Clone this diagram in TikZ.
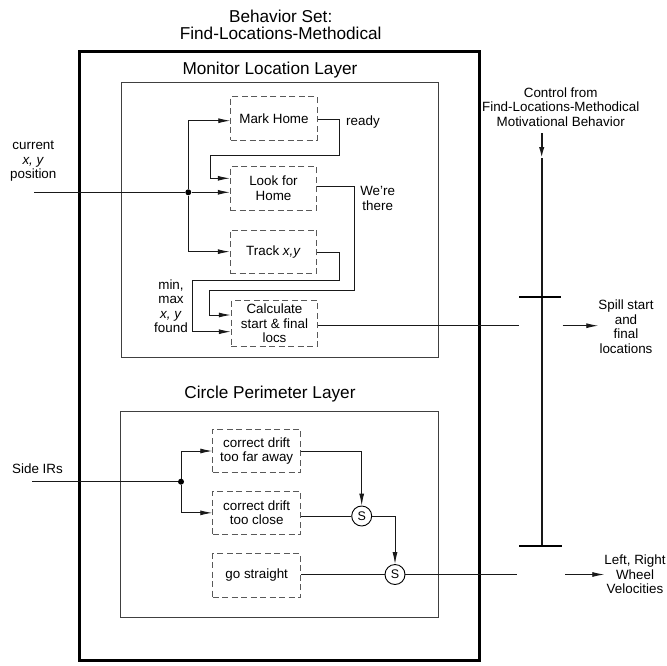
\documentclass[tikz,border=0pt]{standalone}
\usepackage{fontspec}
\setmainfont{Liberation Sans}
\usetikzlibrary{arrows.meta}
\begin{document}
\begin{tikzpicture}[x=1pt,y=-1pt,
  sm/.style={font=\fontsize{13.4}{14.5}\selectfont, align=center, inner sep=0},
  ttl/.style={font=\fontsize{17.2}{17.4}\selectfont, align=center, inner sep=0},
  bhv/.style={draw=black!65, dash pattern=on 6pt off 3.5pt, line width=0.9pt, minimum width=86.6pt, minimum height=43.4pt, inner sep=0, sm},
  layer/.style={draw=black!75, line width=0.9pt, inner sep=0},
  wire/.style={line width=0.9pt, draw=black!90},
  arr/.style={wire, -{Latex[length=12pt,width=5pt]}},
  ctrlw/.style={line width=1.7pt, draw=black!90},
  sup/.style={circle, draw, line width=0.9pt, minimum size=20pt, inner sep=0, font=\fontsize{12.5}{12.5}\selectfont},
  dotn/.style={circle, fill, minimum size=6pt, inner sep=0}]
\useasboundingbox (0,0) rectangle (667,665);

% frames
\node[draw, line width=3pt, minimum width=400.3pt, minimum height=609pt, inner sep=0] (outer) at (279.15,356.2) {};
\node[layer, minimum width=317.3pt, minimum height=275pt] (mon) at (279.65,219.8) {};
\node[layer, minimum width=317.3pt, minimum height=206.3pt] (circ) at (279.35,514.15) {};

% titles
\node[ttl] (title) at (280.7,24.7) {Behavior Set:\\Find-Locations-Methodical};
\node[ttl] (montitle) at (270,70) {Monitor Location Layer};
\node[ttl] (circtitle) at (270,394) {Circle Perimeter Layer};
\node[sm] (ctrl) at (560.7,107) {Control from\\Find-Locations-Methodical\\Motivational Behavior};

% monitor location layer
\node[bhv] (mark) at (274,118.35) {Mark Home};
\node[bhv] (look) at (273.5,188.35) {Look for\\Home};
\node[bhv] (track) at (273.5,251.65) {Track \textit{x,y}};
\node[bhv, minimum height=45.3pt] (calc) at (274.5,323.35) {Calculate\\start \& final\\locs};

\node[dotn] (j1) at (188.3,192.3) {};
\coordinate (in1) at (34,192.3);
\draw[wire] (in1) -- (j1);
\draw[arr] (j1) -- (look.west |- j1);
\draw[arr] (j1) |- (mark.west |- 0,120.7);
\draw[arr] (j1) |- (track.west);
\draw[arr] (mark.east |- 0,119.3) -| (339.3,155) -| (210.7,178.3) -- (look.west |- 0,178.3);
\draw[arr] (look.east |- 0,186.7) -| (354,290) -| (209.3,315) -- (calc.west |- 0,315);
\draw[arr] (track.east |- 0,252.7) -| (339.3,280.7) -| (192.7,331.7) -- (calc.west |- 0,331.7);

\node[sm] (lready) at (363,121.7) {ready};
\node[sm] (lthere) at (377.7,198.7) {We're\\there};
\node[sm] (lfound) at (171,306) {min,\\max\\\textit{x, y}\\found};
\node[sm] (lpos) at (33.3,161.5) {current\\\textit{x, y}\\position};

% control line
\coordinate (ctop) at (541.7,133.3);
\coordinate (carr) at (541.7,158);
\coordinate (cbot) at (541.7,545.7);
\draw[ctrlw, -{Latex[length=11pt,width=5.5pt]}] (ctop) -- (carr);
\draw[ctrlw] (carr) -- (cbot);
\coordinate (t1a) at (519,296.7);
\coordinate (t1b) at (561,296.7);
\coordinate (t2a) at (519,545.7);
\coordinate (t2b) at (562,545.7);
\draw[line width=2.2pt] (t1a) -- (t1b);
\draw[line width=2.2pt] (t2a) -- (t2b);

% spill output
\coordinate (spillend) at (519,325.7);
\draw[wire] (calc.east |- 0,325.7) -- (spillend);
\node[sm] (spill) at (626,326.7) {Spill start\\and\\final\\locations};
\coordinate (sa) at (562.7,325.7);
\draw[arr] (sa) -- (spill.west |- sa);

% circle perimeter layer
\node[bhv, minimum width=88pt] (far) at (256.7,451) {correct drift\\too far away};
\node[bhv, minimum width=88pt] (close) at (256.7,512.85) {correct drift\\too close};
\node[bhv, minimum width=88pt] (straight) at (256.7,575.3) {go straight};
\node[dotn] (j2) at (181,481.7) {};
\coordinate (in2) at (32.3,481.7);
\draw[wire] (in2) -- (j2);
\draw[arr] (j2) |- (far.west);
\draw[arr] (j2) |- (close.west);
\node[sup] (s1) at (361.7,516) {S};
\node[sup] (s2) at (395,574.5) {S};
\draw[arr] (far.east) -| (s1.north);
\draw[wire] (close.east |- s1) -- (s1.west);
\draw[arr] (s1.east) -| (s2.north);
\draw[wire] (straight.east |- s2) -- (s2.west);
\coordinate (lrend) at (516.7,574.5);
\draw[wire] (s2.east) -- (lrend);
\node[sm] (side) at (37.5,468.3) {Side IRs};

\node[sm] (wheel) at (635,574.3) {Left, Right\\Wheel\\Velocities};
\coordinate (lrs) at (565,574.5);
\draw[arr] (lrs) -- (wheel.west |- lrs);
\end{tikzpicture}
\end{document}
